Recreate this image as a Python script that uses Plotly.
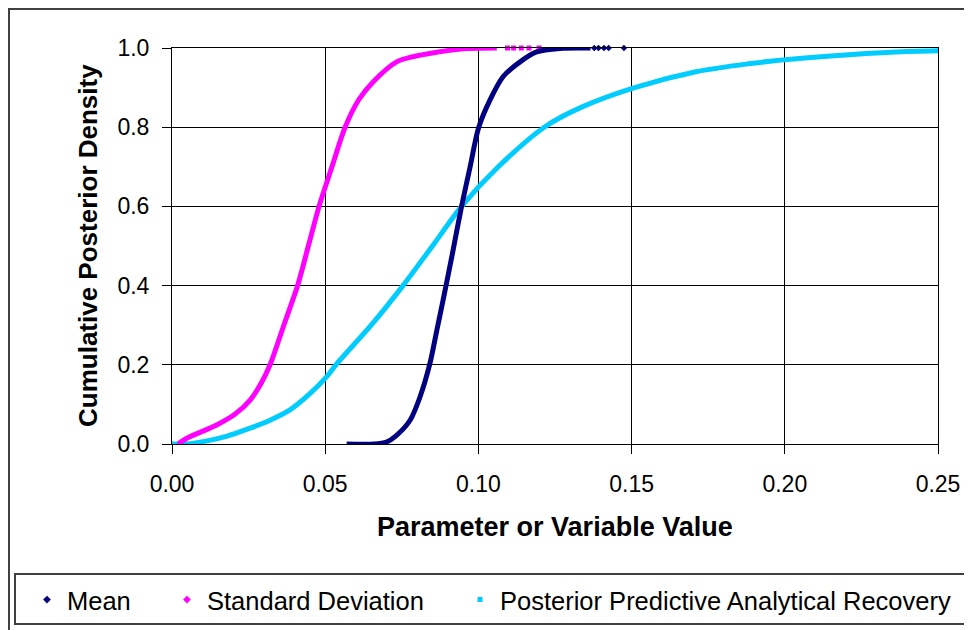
import plotly.graph_objects as go

# ---- data ----
mean_x = [0.057, 0.066, 0.070, 0.073, 0.0777, 0.081, 0.0842, 0.0865, 0.0885, 0.0915,
          0.0945, 0.0973, 0.100, 0.1038, 0.1081, 0.1136, 0.119, 0.1266, 0.1366]
mean_y = [0.0, 0.0, 0.005, 0.02, 0.06, 0.12, 0.204, 0.29, 0.364, 0.48,
          0.60, 0.70, 0.797, 0.869, 0.928, 0.965, 0.99, 0.999, 1.0]
mean_tail_x = [0.1378, 0.1392, 0.1410, 0.1425, 0.1475]
mean_tail_y = [1.0, 1.0, 1.0, 1.0, 1.0]

sd_x = [0.002, 0.005, 0.0146, 0.0205, 0.0255, 0.029, 0.032, 0.0365, 0.041, 0.0445, 0.048,
        0.0522, 0.0565, 0.061, 0.0657, 0.0733, 0.078, 0.0831, 0.095, 0.106]
sd_y = [0.0, 0.015, 0.048, 0.075, 0.111, 0.152, 0.2, 0.3, 0.4, 0.5, 0.6,
        0.7, 0.8, 0.87, 0.915, 0.965, 0.977, 0.985, 0.998, 1.0]
sd_tail_x = [0.1095, 0.1115, 0.1140, 0.1165, 0.1198]
sd_tail_y = [1.0, 1.0, 1.0, 1.0, 1.0]

pp_x = [0.0, 0.005, 0.0102, 0.018, 0.0255, 0.032, 0.0385, 0.045, 0.0505, 0.0535, 0.065,
        0.0754, 0.085, 0.0945, 0.1065, 0.1215, 0.1335, 0.151, 0.171, 0.188, 0.1995,
        0.215, 0.236, 0.25]
pp_y = [0.0, 0.0, 0.006, 0.02, 0.04, 0.06, 0.086, 0.127, 0.17, 0.2, 0.3,
        0.4, 0.5, 0.6, 0.7, 0.8, 0.85, 0.9, 0.94, 0.96, 0.97,
        0.98, 0.99, 0.993]

series_names = ["Mean", "Standard Deviation", "Posterior Predictive Analytical Recovery"]
x_ticks = [0.0, 0.05, 0.10, 0.15, 0.20, 0.25]
y_ticks = [0.0, 0.2, 0.4, 0.6, 0.8, 1.0]

NAVY = "#000080"
MAG = "#FF00FF"
CYAN = "#00CCFF"
FONT = "Arial, 'Liberation Sans', sans-serif"

fig = go.Figure()

fig.add_trace(go.Scatter(x=pp_x, y=pp_y, mode="lines",
                         line=dict(color=CYAN, width=5, shape="spline", smoothing=0.8),
                         showlegend=False, cliponaxis=False))
fig.add_trace(go.Scatter(x=sd_x, y=sd_y, mode="lines",
                         line=dict(color=MAG, width=5, shape="spline", smoothing=0.8),
                         showlegend=False, cliponaxis=False))
fig.add_trace(go.Scatter(x=sd_tail_x, y=sd_tail_y, mode="markers",
                         marker=dict(color=MAG, size=5, symbol="square"), showlegend=False, cliponaxis=False))
fig.add_trace(go.Scatter(x=mean_x, y=mean_y, mode="lines",
                         line=dict(color=NAVY, width=5, shape="spline", smoothing=0.8),
                         showlegend=False, cliponaxis=False))
fig.add_trace(go.Scatter(x=mean_tail_x, y=mean_tail_y, mode="markers",
                         marker=dict(color=NAVY, size=5, symbol="diamond"), showlegend=False, cliponaxis=False))

# legend entries
fig.add_trace(go.Scatter(x=[None], y=[None], mode="markers", name=series_names[0],
                         marker=dict(color=NAVY, size=6, symbol="diamond"), legend="legend"))
fig.add_trace(go.Scatter(x=[None], y=[None], mode="markers", name=series_names[1],
                         marker=dict(color=MAG, size=6, symbol="diamond"), legend="legend2"))
fig.add_trace(go.Scatter(x=[None], y=[None], mode="markers", name=series_names[2],
                         marker=dict(color=CYAN, size=5, symbol="square"), legend="legend3"))

OFF = 8  # page body margin
L, R, T, B = 172 - OFF, 34, 48 - OFF, 186
W, H = 972 - OFF - L - R, 630 - OFF - T - B


def px(xpix):
    return (xpix - OFF - L) / W


def py(ypix):
    return (630 - B - ypix) / H


leg_common = dict(font=dict(family=FONT, size=25.5, color="#000000"), bgcolor="rgba(0,0,0,0)",
                  borderwidth=0, yanchor="middle", xanchor="left", orientation="h")

fig.update_layout(
    width=972 - OFF, height=630 - OFF,
    margin=dict(l=L, r=R, t=T, b=B, autoexpand=False),
    paper_bgcolor="white", plot_bgcolor="white",
    font=dict(family=FONT, color="#000000"),
    legend=dict(x=px(27), y=py(600), **leg_common),
    legend2=dict(x=px(167), y=py(600), **leg_common),
    legend3=dict(x=px(460), y=py(600), **leg_common),
    xaxis=dict(range=[0, 0.25], tickvals=x_ticks, ticktext=[f"{v:.2f}" for v in x_ticks],
               showgrid=True, gridcolor="black", gridwidth=1,
               showline=True, linecolor="black", linewidth=1, mirror=True,
               ticks="outside", ticklen=9, tickcolor="black", tickwidth=1,
               tickfont=dict(family=FONT, size=23, color="#000000"),
               ticklabelstandoff=10, zeroline=False),
    yaxis=dict(range=[0, 1], tickvals=y_ticks, ticktext=[f"{v:.1f}" for v in y_ticks],
               showgrid=True, gridcolor="black", gridwidth=1,
               showline=True, linecolor="black", linewidth=1, mirror=True,
               ticks="outside", ticklen=9, tickcolor="black", tickwidth=1,
               tickfont=dict(family=FONT, size=23, color="#000000"),
               ticklabelstandoff=8, zeroline=False),
    annotations=[
        dict(text="<b>Parameter or Variable Value</b>", x=0.5, y=py(527), xref="paper", yref="paper",
             showarrow=False, xanchor="center", yanchor="middle",
             font=dict(family=FONT, size=27, color="#000000")),
        dict(text="<b>Cumulative Posterior Density</b>", x=px(88), y=py(246), xref="paper", yref="paper",
             showarrow=False, xanchor="center", yanchor="middle", textangle=-90,
             font=dict(family=FONT, size=26, color="#000000")),
    ],
    shapes=[
        dict(type="rect", xref="paper", yref="paper", x0=px(9), y0=py(9), x1=px(990), y1=py(660),
             line=dict(color="#404040", width=2), fillcolor="rgba(0,0,0,0)", layer="below"),
        dict(type="rect", xref="paper", yref="paper", x0=px(15), y0=py(574), x1=px(985), y1=py(624),
             line=dict(color="#404040", width=2), fillcolor="rgba(0,0,0,0)", layer="below"),
    ],
)

fig.write_html("out.html")
